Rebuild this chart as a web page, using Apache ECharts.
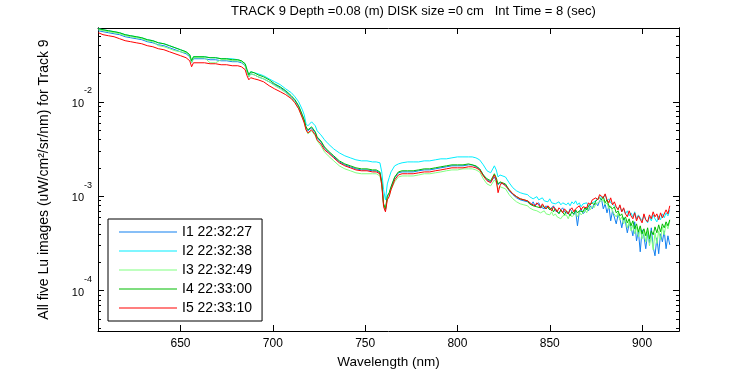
<!DOCTYPE html>
<html><head><meta charset="utf-8">
<script src="https://cdn.jsdelivr.net/npm/echarts@6/dist/echarts.min.js"></script>
<style>html,body{margin:0;padding:0;background:#fff}#c{width:750px;height:375px}</style>
</head><body><div id="c"></div>
<script>
const wavelength = [
605.5,608,611,614,617,620,623,626,629,632,
635,638,641,644,647,650,653,654,655,656,
657,658,660,663,666,669,672,675,678,681,
683,685,686,687,688,690,692,695,698,701,
704,707,710,712,714,716,717,718,719,720,
721,722,723,724,726,728,730,733,736,739,
742,745,748,751,754,756,758,759,760,761,
762,763,764,766,768,770,773,776,779,782,
785,788,791,794,797,800,803,806,808,810,
812,814,816,818,820,821,822,823,824,826,
828,830,832,834,836,838,
839,840,841,842,843,844,845,846,847,848,
849,850,851,852,853,854,855,856,857,858,
859,860,861,862,863,864,865,866,867,868,
869,870,871,872,873,874,875,876,877,878,
879,880,881,882,883,884,885,886,887,888,
889,890,891,892,893,894,895,896,897,898,
899,900,901,902,903,904,905,906,907,908,
909,910,911,912,913,914,915];

const lu_I1 = [
0.0566,0.0553,0.0539,0.0526,0.0514,0.0489,0.0477,0.0466,0.0455,0.0433,
0.0422,0.0402,0.0393,0.0374,0.0356,0.0339,0.0323,0.0315,0.03,0.0259,
0.0286,0.0293,0.0286,0.0286,0.0279,0.0279,0.0272,0.0272,0.0266,0.0266,
0.0259,0.0241,0.0208,0.0184,0.0198,0.0193,0.0184,0.0175,0.0163,0.0152,
0.0141,0.0128,0.0113,0.0103,0.00885,0.00711,0.00629,0.0053,0.00493,0.00493,
0.0053,0.00543,0.00469,0.00415,0.00377,0.00325,0.00295,0.00261,0.00231,0.00215,
0.00205,0.00195,0.0019,0.0019,0.00186,0.00186,0.00177,0.00139,0.000811,0.000701,
0.00099,0.00106,0.00123,0.00157,0.00177,0.00181,0.00181,0.00181,0.00186,0.0019,
0.0019,0.00195,0.002,0.00205,0.0021,0.0021,0.0021,0.00215,0.00215,0.00205,
0.00195,0.00168,0.00149,0.00142,0.0016,0.00153,0.00132,0.00139,0.00142,0.00132,
0.00114,0.00104,0.000962,0.000916,0.000894,0.000873,
0.000852,0.000811,0.000873,0.000792,0.000831,0.000852,0.000773,0.000811,0.000736,0.000792,
0.000773,0.000718,0.000754,0.000792,0.000701,0.000736,0.000667,0.000718,0.000754,0.000684,
0.000701,0.000651,0.000736,0.000684,0.000635,0.000701,0.000486,0.000684,0.000736,0.000651,
0.000684,0.000754,0.000701,0.000792,0.000736,0.000811,0.000852,0.000792,0.000894,0.000939,
0.000736,0.000831,0.000667,0.000792,0.000549,0.000701,0.000736,0.00051,0.000635,0.000577,
0.000463,0.000591,0.000536,0.00041,0.00051,0.000474,0.000381,0.000536,0.000337,0.00043,
0.000258,0.000441,0.000372,0.000278,0.00041,0.000321,0.000463,0.000291,0.000234,0.000363,
0.000246,0.0004,0.000329,0.00043,0.000278,0.000381,0.000306];

const lu_I2 = [
0.0595,0.058,0.0566,0.0553,0.0539,0.0514,0.0501,0.0489,0.0477,0.0455,
0.0444,0.0422,0.0412,0.0393,0.0374,0.0356,0.0339,0.0331,0.0315,0.0266,
0.03,0.0308,0.03,0.03,0.0293,0.0293,0.0286,0.0286,0.0286,0.0279,
0.0272,0.0253,0.0219,0.0193,0.0208,0.0203,0.0198,0.0189,0.0175,0.0163,
0.0152,0.0137,0.0125,0.0113,0.01,0.00823,0.00728,0.00585,0.00557,0.0057,
0.00614,0.00629,0.00557,0.00493,0.00447,0.00396,0.00359,0.00317,0.00288,0.00268,
0.00255,0.00243,0.00237,0.00237,0.00231,0.00231,0.00226,0.00181,0.00117,0.000916,
0.00135,0.00157,0.00181,0.0021,0.0022,0.00226,0.00231,0.00231,0.00231,0.00237,
0.00237,0.00243,0.00249,0.00249,0.00255,0.00261,0.00261,0.00261,0.00261,0.00255,
0.00243,0.00215,0.00186,0.00177,0.0021,0.0019,0.0016,0.00168,0.00173,0.0016,
0.00139,0.00123,0.00114,0.00109,0.00106,0.00104,
0.00099,0.00101,0.000939,0.000962,0.00099,0.000916,0.000939,0.000962,0.000894,0.000916,
0.000873,0.000939,0.000852,0.000894,0.000831,0.000792,0.000873,0.000811,0.000852,0.000894,
0.000811,0.000852,0.000792,0.000873,0.000831,0.000894,0.000811,0.000852,0.000773,0.000831,
0.000792,0.000852,0.000773,0.000831,0.000811,0.000873,0.000894,0.000939,0.00099,0.00101,
0.000962,0.00104,0.000894,0.000939,0.000852,0.000873,0.000792,0.000831,0.000736,0.000773,
0.000684,0.000736,0.000651,0.000701,0.00062,0.000667,0.000605,0.000684,0.000577,0.000635,
0.000591,0.000549,0.00062,0.000563,0.000523,0.000605,0.000549,0.000635,0.000577,0.000536,
0.00062,0.000563,0.000651,0.000591,0.000667,0.00062,0.000718];

const lu_I3 = [
0.058,0.0566,0.0553,0.0539,0.0526,0.0501,0.0489,0.0477,0.0466,0.0444,
0.0433,0.0393,0.0383,0.0365,0.0347,0.0339,0.0331,0.0323,0.0308,0.0259,
0.0293,0.03,0.0293,0.0293,0.0259,0.0259,0.0279,0.0279,0.0272,0.0272,
0.0266,0.0241,0.0208,0.0184,0.0198,0.0193,0.0184,0.0175,0.0163,0.0148,
0.0137,0.0125,0.011,0.00976,0.00843,0.00677,0.00599,0.00505,0.00458,0.00458,
0.00493,0.00505,0.00436,0.00386,0.00342,0.00295,0.00268,0.00237,0.0021,0.00195,
0.00186,0.00177,0.00173,0.00173,0.00173,0.00173,0.00164,0.00132,0.000811,0.000718,
0.000939,0.00101,0.00117,0.00142,0.0016,0.00164,0.00164,0.00164,0.00168,0.00173,
0.00173,0.00177,0.00181,0.00186,0.0019,0.0019,0.00195,0.00195,0.00195,0.0019,
0.00181,0.00153,0.00135,0.00129,0.00149,0.00139,0.0012,0.00126,0.00129,0.0012,
0.00104,0.000939,0.000873,0.000831,0.000811,0.000792,
0.000754,0.000773,0.000718,0.000736,0.000701,0.000718,0.000667,0.000684,0.000701,0.000651,
0.000667,0.000635,0.000684,0.00062,0.000651,0.000605,0.000635,0.000577,0.00062,0.000591,
0.000635,0.000577,0.000651,0.000605,0.00062,0.000667,0.000605,0.000684,0.000635,0.000667,
0.000718,0.000667,0.000754,0.000718,0.000792,0.000754,0.000831,0.000811,0.000873,0.000852,
0.000916,0.000811,0.000852,0.000736,0.000792,0.000684,0.000718,0.000605,0.000667,0.000563,
0.000605,0.00051,0.000563,0.000463,0.000536,0.00043,0.000498,0.0004,0.000474,0.000372,
0.000452,0.000354,0.00042,0.000329,0.00043,0.000299,0.000381,0.000271,0.00041,0.000314,
0.00043,0.000346,0.000474,0.00039,0.00051,0.000452,0.000549];

const lu_I4 = [
0.0595,0.058,0.0566,0.0553,0.0539,0.0514,0.0501,0.0489,0.0477,0.0455,
0.0444,0.0422,0.0412,0.0393,0.0374,0.0356,0.0339,0.0331,0.0315,0.0272,
0.03,0.0308,0.03,0.03,0.0293,0.0293,0.0286,0.0286,0.0279,0.0279,
0.0272,0.0253,0.0219,0.0193,0.0208,0.0203,0.0193,0.0184,0.0171,0.0155,
0.0144,0.0131,0.0116,0.0105,0.00907,0.00728,0.00644,0.00543,0.00505,0.00505,
0.00543,0.00557,0.00481,0.00425,0.00386,0.00333,0.00302,0.00268,0.00237,0.0022,
0.0021,0.002,0.00195,0.00195,0.0019,0.0019,0.00181,0.00142,0.000831,0.000736,
0.00101,0.00109,0.00126,0.0016,0.00181,0.00186,0.00186,0.00186,0.0019,0.00195,
0.00195,0.002,0.00205,0.0021,0.00215,0.00215,0.00215,0.0022,0.00215,0.0021,
0.00195,0.00168,0.00153,0.00146,0.00173,0.00157,0.00135,0.00142,0.00146,0.00135,
0.00117,0.00106,0.00099,0.000939,0.000916,0.000894,
0.000831,0.000852,0.000792,0.000831,0.000773,0.000811,0.000754,0.000792,0.000811,0.000736,
0.000773,0.000718,0.000754,0.000684,0.000736,0.000701,0.000651,0.000718,0.000684,0.000635,
0.000701,0.000667,0.00062,0.000684,0.000651,0.000718,0.000667,0.000701,0.000736,0.000684,
0.000754,0.000718,0.000792,0.000773,0.000852,0.000811,0.000894,0.000873,0.000962,0.000916,
0.00099,0.000852,0.000916,0.000792,0.000831,0.000736,0.000773,0.000667,0.000701,0.00062,
0.000651,0.000563,0.000605,0.000523,0.000577,0.000486,0.000549,0.000452,0.00051,0.00042,
0.000486,0.0004,0.000452,0.000381,0.000463,0.000354,0.00043,0.00039,0.000474,0.00041,
0.000498,0.00042,0.00051,0.000463,0.000536,0.000486,0.000563];

const lu_I5 = [
0.0539,0.0514,0.0501,0.0489,0.0466,0.0444,0.0433,0.0422,0.0412,0.0393,
0.0383,0.0365,0.0356,0.0339,0.0323,0.0308,0.0293,0.0286,0.0272,0.0235,
0.0259,0.0266,0.0259,0.0259,0.0253,0.0253,0.0247,0.0247,0.0241,0.0241,
0.0235,0.0219,0.0189,0.0171,0.018,0.0175,0.0171,0.0163,0.0148,0.0137,
0.0128,0.0119,0.0108,0.00976,0.00843,0.00677,0.00599,0.00505,0.00469,0.00469,
0.00505,0.00517,0.00447,0.00396,0.00359,0.0031,0.00288,0.00255,0.00226,0.0021,
0.002,0.0019,0.00186,0.00186,0.00181,0.00181,0.00173,0.00132,0.000773,0.000684,
0.000916,0.00099,0.00117,0.00149,0.00168,0.00173,0.00173,0.00173,0.00177,0.00181,
0.00181,0.00186,0.0019,0.00195,0.002,0.002,0.002,0.00205,0.00205,0.002,
0.0019,0.00164,0.00146,0.00139,0.00168,0.00149,0.00109,0.00129,0.00139,0.00129,
0.00117,0.00106,0.00099,0.000939,0.000916,0.000894,
0.000873,0.000831,0.000852,0.000792,0.000852,0.000811,0.000754,0.000831,0.000773,0.000736,
0.000792,0.000754,0.000701,0.000773,0.000736,0.000684,0.000754,0.000718,0.000667,0.000736,
0.000701,0.000651,0.000718,0.000754,0.000684,0.000736,0.000701,0.000792,0.000718,0.000773,
0.000811,0.000754,0.000852,0.000811,0.000916,0.000873,0.000962,0.000916,0.00104,0.00109,
0.000962,0.00106,0.000916,0.000852,0.000962,0.000811,0.000873,0.000773,0.000718,0.000811,
0.000684,0.000754,0.000651,0.000605,0.000701,0.00062,0.000577,0.000667,0.000549,0.00062,
0.000591,0.000523,0.000651,0.000563,0.000536,0.000635,0.000577,0.000684,0.000605,0.000651,
0.000563,0.000667,0.000591,0.00062,0.000718,0.000651,0.000792];

const seriesNames = ['I1 22:32:27','I2 22:32:38','I3 22:32:49','I4 22:33:00','I5 22:33:10'];
const seriesValues = [lu_I1, lu_I2, lu_I3, lu_I4, lu_I5];
const seriesColors = ['#1080f0','#00eeff','#80ff80','#00bb00','#ff0000'];
const xTicks = [650,700,750,800,850,900];
const yMajorTicks = [1e-4,1e-3,1e-2];
const yMinorTicks = [4e-5,5e-5,6e-5,7e-5,8e-5,9e-5,
  2e-4,3e-4,4e-4,5e-4,6e-4,7e-4,8e-4,9e-4,
  2e-3,3e-3,4e-3,5e-3,6e-3,7e-3,8e-3,9e-3,
  2e-2,3e-2,4e-2,5e-2,6e-2];
const X_MIN = 605.3, X_MAX = 920, Y_MIN = 3.74e-5, Y_MAX = 0.0605;

const FONT = 'Liberation Sans, Arial, Helvetica, sans-serif';
const lg = v => Math.log10(v);
const majorLog = yMajorTicks.map(lg);
const minorLog = yMinorTicks.map(lg);

function decoY(position, ticks, len, withLabels) {
  return {
    type: 'value', position: position, min: lg(Y_MIN), max: lg(Y_MAX),
    axisLine: { show: true, onZero: false, lineStyle: { color: '#000', width: 1 } },
    axisTick: { show: true, inside: true, length: len, customValues: ticks, lineStyle: { color: '#000', width: 1 } },
    axisLabel: withLabels ? {
      show: true, customValues: ticks, margin: 6, color: '#000',
      formatter: v => '{b|10}{s|' + Math.round(v) + '}',
      rich: {
        b: { fontSize: 11, fontFamily: FONT, color: '#000', padding: [12, 0, 8, 0] },
        s: { fontSize: 9, fontFamily: FONT, color: '#000', verticalAlign: 'top' }
      }
    } : { show: false },
    splitLine: { show: false }
  };
}

const yAxes = [
  { type: 'log', min: Y_MIN, max: Y_MAX, show: false, splitLine: { show: false } },
  Object.assign(decoY('left', majorLog, 6, true), {
    name: 'All five Lu images (uW/cm²/sr/nm) for Track 9',
    nameLocation: 'middle', nameGap: 47,
    nameTextStyle: { fontSize: 14, fontFamily: FONT, color: '#000' }
  }),
  decoY('left', minorLog, 3, false),
  decoY('right', majorLog, 6, false),
  decoY('right', minorLog, 3, false)
];

const xAxes = [
  {
    type: 'value', position: 'bottom', min: X_MIN, max: X_MAX,
    axisLine: { show: true, onZero: false, lineStyle: { color: '#000', width: 1 } },
    axisTick: { show: true, inside: true, length: 6, customValues: xTicks, lineStyle: { color: '#000' } },
    axisLabel: { show: true, customValues: xTicks, margin: 7, fontSize: 12, fontFamily: FONT, color: '#000' },
    splitLine: { show: false },
    name: 'Wavelength (nm)', nameLocation: 'middle', nameGap: 22,
    nameTextStyle: { fontSize: 13.5, fontFamily: FONT, color: '#000' }
  },
  {
    type: 'value', position: 'top', min: X_MIN, max: X_MAX,
    axisLine: { show: true, onZero: false, lineStyle: { color: '#000', width: 1 } },
    axisTick: { show: true, inside: true, length: 6, customValues: xTicks, lineStyle: { color: '#000' } },
    axisLabel: { show: false },
    splitLine: { show: false }
  }
];

const series = seriesNames.map((name, k) => ({
  name: name, type: 'line', xAxisIndex: 0, yAxisIndex: 0,
  data: wavelength.map((w, i) => [w, seriesValues[k][i]]),
  symbol: 'none', showSymbol: false, clip: true,
  lineStyle: { color: seriesColors[k], width: 1 },
  itemStyle: { color: seriesColors[k] },
  emphasis: { disabled: true }
}));

const chart = echarts.init(document.getElementById('c'), null, { renderer: 'canvas' });
chart.setOption({
  animation: false,
  backgroundColor: '#fff',
  title: {
    text: 'TRACK 9 Depth =0.08 (m) DISK size =0 cm   Int Time = 8 (sec)',
    left: 228, top: 2, padding: 3,
    textStyle: { fontSize: 13, fontWeight: 'normal', fontFamily: FONT, color: '#000' }
  },
  grid: { left: 98, right: 71, top: 28, bottom: 44, containLabel: false },
  legend: {
    orient: 'vertical', left: 108, top: 219,
    padding: [6, 10, 6, 11], itemGap: 5, itemWidth: 58, itemHeight: 14,
    icon: 'path://M0,0L0.01,0M0,6.6L58,6.6L58,7.6L0,7.6ZM58,14L57.99,14',
    itemStyle: { borderWidth: 0 },
    backgroundColor: '#fff', borderColor: '#000', borderWidth: 1,
    textStyle: { fontSize: 14, fontFamily: FONT, color: '#000' },
    data: seriesNames
  },
  xAxis: xAxes,
  yAxis: yAxes,
  series: series
});
</script></body></html>
